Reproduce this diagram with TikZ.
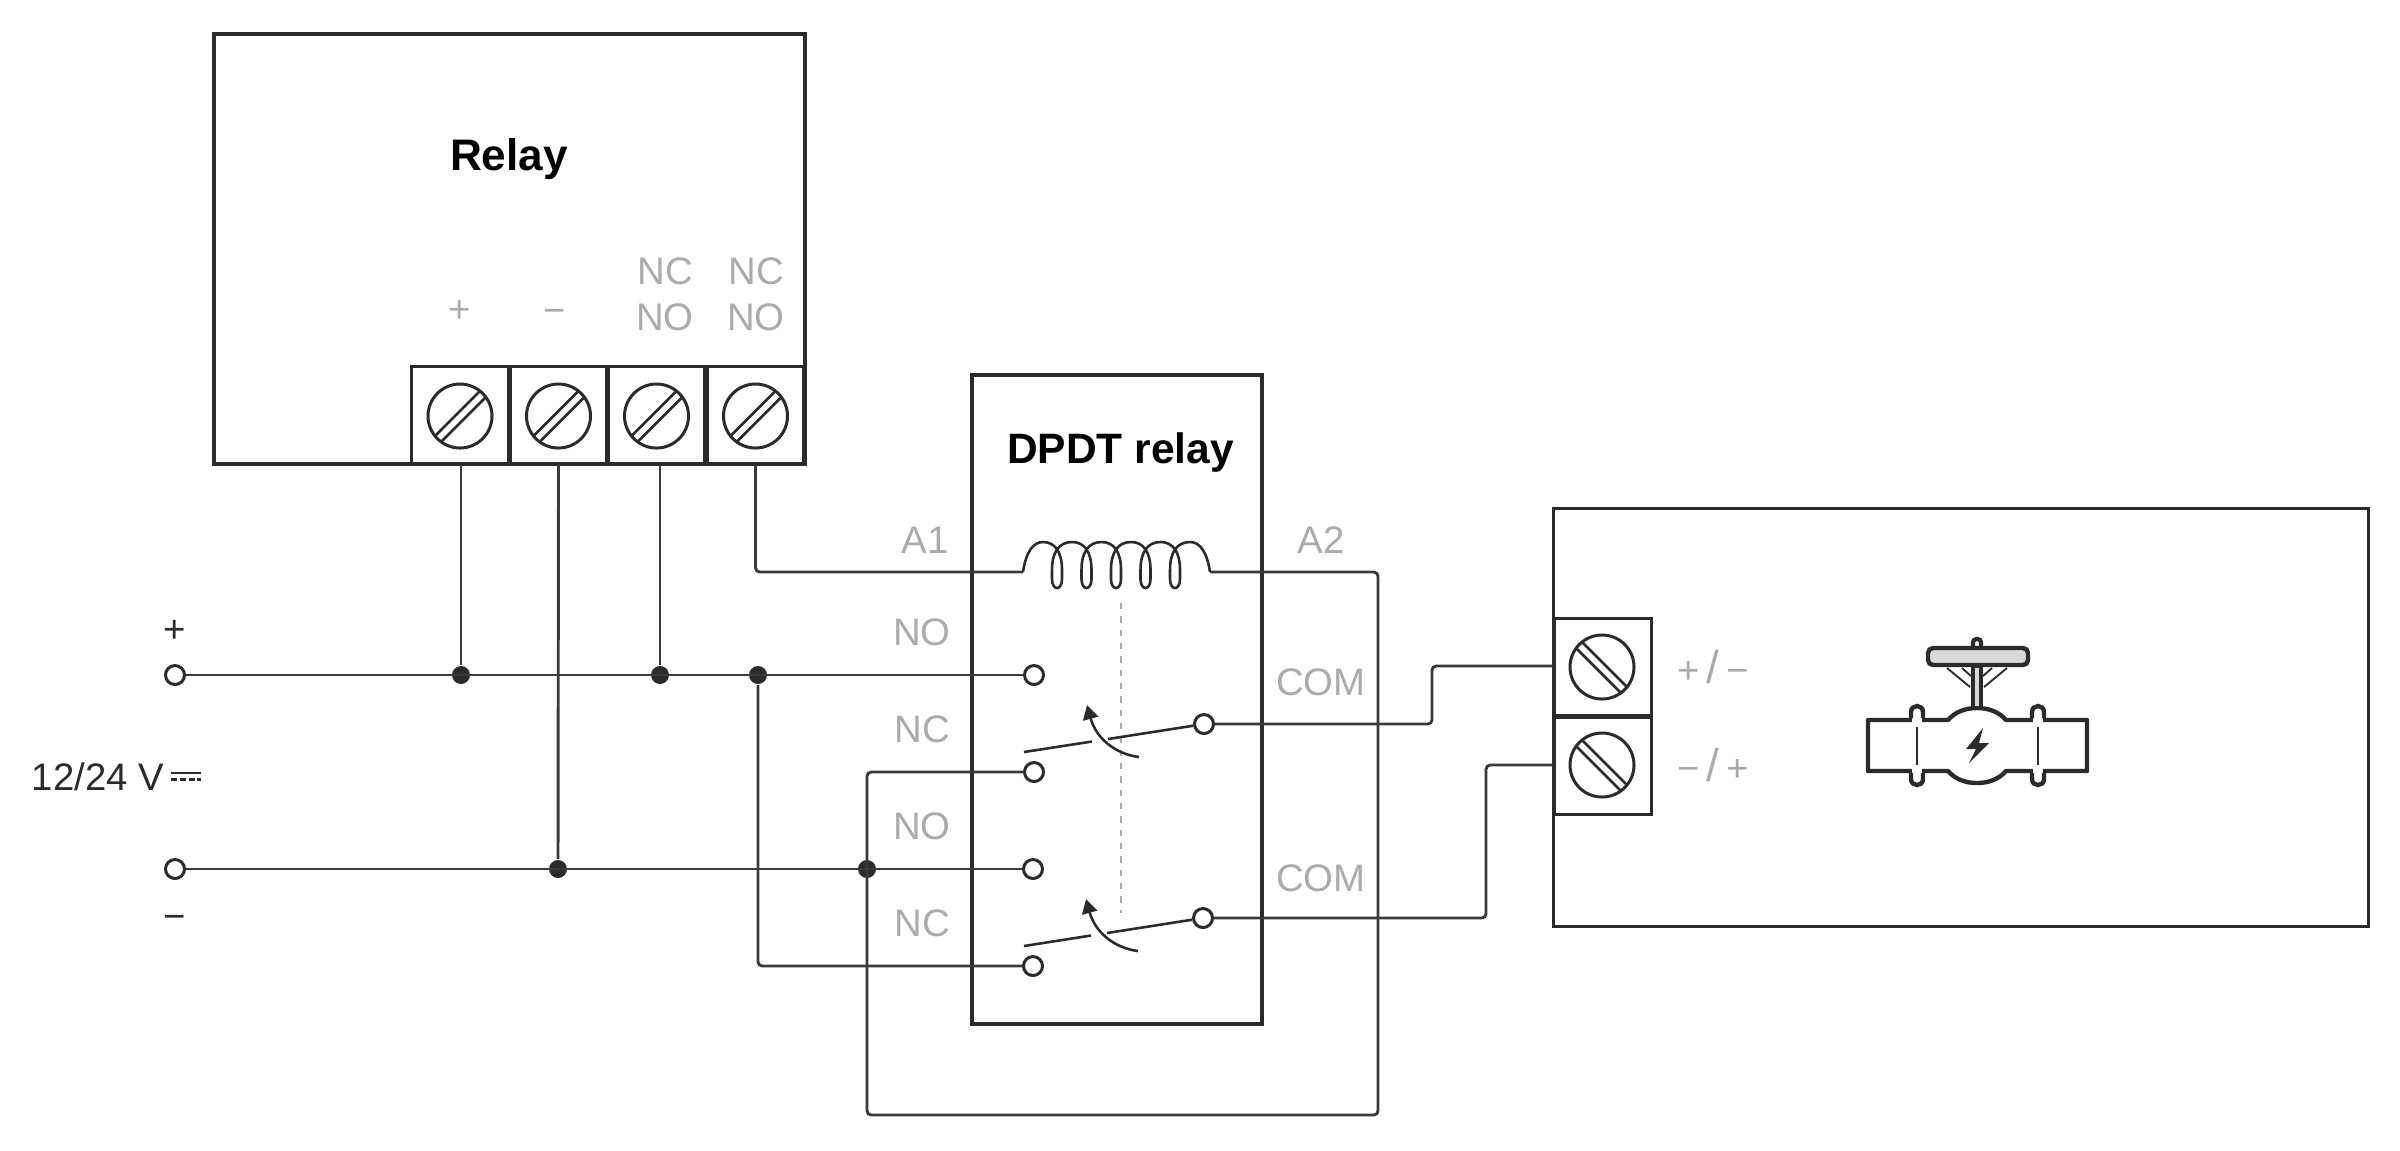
\documentclass[tikz,border=0pt]{standalone}
\usepackage{fontspec}
\setmainfont{Liberation Sans}
\usetikzlibrary{arrows.meta}
\definecolor{ink}{HTML}{2B2B2B}
\definecolor{wirec}{HTML}{3A3A3A}
\definecolor{lab}{HTML}{ABABAB}
\definecolor{handle}{HTML}{D9D9D9}
\def\u{0.24pt}
\tikzset{
  x=0.24pt,y=-0.24pt,
  boxl/.style={draw=ink,line width=0.8pt,inner sep=0pt},
  mainbox/.style={boxl},
  termbox/.style={boxl,minimum size=97*\u},
  rterm/.style={boxl,line width=0.72pt,minimum size=97*\u},
  wire/.style={draw=wirec,line width=0.7pt,rounded corners=1pt},
  open/.style={circle,draw=ink,line width=0.72pt,fill=white,minimum size=19*\u,inner sep=0pt},
  dot/.style={circle,fill=ink,minimum size=18*\u,inner sep=0pt},
  graytxt/.style={text=lab,font=\fontsize{9.2pt}{11pt}\selectfont,inner sep=0pt},
  blacktxt/.style={text=ink,font=\fontsize{9.2pt}{11pt}\selectfont,inner sep=0pt},
  titletxt/.style={text=black,font=\fontsize{10.6pt}{12pt}\bfseries\selectfont,inner sep=0pt},
  blade/.style={draw=ink,line width=0.62pt},
  swarrow/.style={draw=ink,line width=0.62pt,-{Triangle[length=3.4pt,width=3.7pt]}},
  screwhead/.pic={
    \draw[ink,line width=0.72pt] (0,0) circle [radius=32];
    \draw[ink,line width=0.62pt] (-25,20) -- (20,-25) (-18,25) -- (25,-18);
  },
}
\begin{document}
\begin{tikzpicture}
\useasboundingbox (0,0) rectangle (2400,1150);
% main boxes
\node[mainbox,minimum width=591*\u,minimum height=430*\u] (relay) at (509.5,249) {};
\node[mainbox,minimum width=290*\u,minimum height=649*\u] (dpdt) at (1117,699.5) {};
\node[mainbox,line width=0.72pt,minimum width=815*\u,minimum height=418*\u] (valvebox) at (1960.5,717) {};
\node[titletxt] (reltxt) at (509,159) {Relay};
\node[titletxt,font=\fontsize{10.2pt}{12pt}\bfseries\selectfont] (dpdttxt) at (1120.5,452) {DPDT relay};
% relay terminals
\node[termbox] (t1) at (460,415) {};
\node[termbox] (t2) at (558.5,415) {};
\node[termbox] (t3) at (656.5,415) {};
\node[termbox] (t4) at (755.5,415) {};
\pic at (460,416) {screwhead};
\pic at (558.5,416) {screwhead};
\pic at (656.5,416) {screwhead};
\pic at (755.5,416) {screwhead};
% relay labels
\node[graytxt] (lp) at (460,311) {+};
\node[graytxt] (lm) at (555,316) {−};
\node[graytxt] (l3a) at (665,271) {NC};
\node[graytxt] (l3b) at (665,317) {NO};
\node[graytxt] (l4a) at (756,271) {NC};
\node[graytxt] (l4b) at (756,317) {NO};
% supply
\node[open] (sp) at (175,675) {};
\node[open] (sm) at (175,869) {};
\node[blacktxt] (plus) at (175,631) {+};
\node[blacktxt] (minus) at (175,922) {−};
\node[blacktxt,anchor=west] (volt) at (31,777) {12/24 V};
\draw[ink,line width=0.5pt] (171,773) -- (201,773);
\draw[ink,line width=0.5pt,dash pattern=on 1.5pt off 0.6pt] (171,779.5) -- (201,779.5);
% relay contact circles
\node[open] (no1) at (1034,675) {};
\node[open] (nc1) at (1034,772) {};
\node[open] (no2) at (1033,869) {};
\node[open] (nc2) at (1033,966) {};
\node[open] (com1) at (1204,724) {};
\node[open] (com2) at (1203,918) {};
% junction dots
\node[dot] (j1) at (461,675) {};
\node[dot] (j2) at (660,675) {};
\node[dot] (j3) at (758,675) {};
\node[dot] (j4) at (558,869) {};
\node[dot] (j5) at (867,869) {};
% coil ends
\coordinate (coilL) at (1023,572);
\coordinate (coilR) at (1210,572);
% right terminals
\node[rterm] (r1) at (1602.5,667) {};
\node[rterm] (r2) at (1602.5,766) {};
\pic[xscale=-1] at (1602,667) {screwhead};
\pic[xscale=-1] at (1602,765) {screwhead};
% wires
\draw[wire] (sp) -- (no1);
\draw[wire] (sm) -- (no2);
\draw[wire] (t1.south -| j1) -- (j1);
\draw[wire] (t2.south) -- (j4);
\draw[wire] (t3.south -| j2) -- (j2);
\draw[wire] (t4.south) -- (755.5,572) -- (coilL);
\draw[wire] (j3) -- (j3 |- nc2) -- (nc2);
\draw[wire] (coilR) -- (1378,572) -- (1378,1115) -- (867,1115) -- (867,772) -- (nc1);
\draw[wire] (com1) -- (1432,724) -- (1432,666) -- (r1.west |- 0,666);
\draw[wire] (com2) -- (1486,918) -- (1486,765) -- (r2.west |- 0,765);
% coil
\draw[draw=ink,line width=0.62pt,line join=round]
  (coilL) .. controls (1026,552) and (1033,542) .. (1043,542)
  \foreach \cx in {1057,1086.5,1116,1145.5,1175} {
    .. controls (\cx-2,542) and (\cx+5,552) .. (\cx+5,570)
    -- (\cx+5,579) .. controls (\cx+5,591) and (\cx-5,591) .. (\cx-5,579)
    -- (\cx-5,570) .. controls (\cx-5,552) and (\cx+2,542) .. (\cx+15,542)
  }
  .. controls (1200,542) and (1207,552) .. (coilR);
% mechanical link
\draw[draw=lab,line width=0.6pt,dash pattern=on 1.5pt off 1.7pt] (1121,603) -- (1121,913);
% switch 1
\draw[blade] (1024,752) -- (1092,741.5);
\draw[blade] (1108,739) -- (com1);
\draw[swarrow] (1139,757) .. controls (1115,754) and (1096,738) .. (1087,705);
% switch 2
\draw[blade] (1024,946) -- (1091,935.5);
\draw[blade] (1107,933) -- (com2);
\draw[swarrow] (1138,951) .. controls (1114,948) and (1095,932) .. (1086,899);
% labels around dpdt
\node[graytxt] (a1) at (925,540) {A1};
\node[graytxt] (a2) at (1321,540) {A2};
\node[graytxt] (ln1) at (922,632) {NO};
\node[graytxt] (lc1) at (922,729) {NC};
\node[graytxt] (ln2) at (922,826) {NO};
\node[graytxt] (lc2) at (922,923) {NC};
\node[graytxt] (lcom1) at (1321,682) {COM};
\node[graytxt] (lcom2) at (1321,878) {COM};
\node[graytxt] (pm) at (1713,667) {+\hspace{1.6pt}{\fontsize{11pt}{11pt}\selectfont/}\hspace{1.6pt}−};
\node[graytxt] (mp) at (1713,765) {−\hspace{1.6pt}{\fontsize{11pt}{11pt}\selectfont/}\hspace{1.6pt}+};
% valve
\draw[ink,line width=1.05pt,fill=white,line join=round]
  (1868,720) -- (1948,720)
  .. controls (1955,712) and (1965,708) .. (1977,708)
  .. controls (1989,708) and (1999,712) .. (2006,720)
  -- (2087,720) -- (2087,771) -- (2006,771)
  .. controls (1999,779) and (1989,783) .. (1977,783)
  .. controls (1965,783) and (1955,779) .. (1948,771)
  -- (1868,771) -- cycle;
\foreach \fx in {1917,2038} {
  \fill[white] (\fx-5,714) rectangle (\fx+5,777);
  \draw[ink,line width=1.05pt,line cap=butt] (\fx-6,718) -- (\fx-6,712) .. controls (\fx-6,704) and (\fx+6,704) .. (\fx+6,712) -- (\fx+6,718);
  \draw[ink,line width=1.05pt,line cap=butt] (\fx-6,773) -- (\fx-6,779) .. controls (\fx-6,787) and (\fx+6,787) .. (\fx+6,779) -- (\fx+6,773);
  \draw[ink,line width=0.45pt] (\fx,727) -- (\fx,765);
}
\draw[ink,line width=0.45pt] (1947,668) -- (1970,687) (1962,668) -- (1971,676)
  (2007,668) -- (1984,687) (1992,668) -- (1983,676);
\draw[ink,line width=1pt,fill=white,rounded corners=0.8pt] (1973,650) -- (1973,639) -- (1981,639) -- (1981,650);
\draw[ink,line width=1.05pt,fill=handle] (1973,666) rectangle (1981,708);
\draw[ink,line width=1.05pt,fill=handle,rounded corners=1.2pt] (1928,648) rectangle (2028,665);
\fill[ink] (1983,728) -- (1966,749) -- (1976,749) -- (1969,763) -- (1989,743) -- (1979,743) -- cycle;
\end{tikzpicture}
\end{document}
